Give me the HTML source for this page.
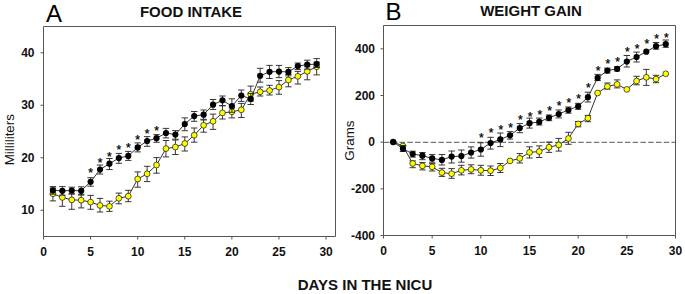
<!DOCTYPE html>
<html><head><meta charset="utf-8"><style>
html,body{margin:0;padding:0;background:#fff;}
body{width:685px;height:294px;overflow:hidden;}
svg{display:block;font-family:"Liberation Sans",sans-serif;}
.tl{font-size:12px;font-weight:bold;fill:#111;}
.tt{font-size:15px;font-weight:bold;fill:#111;}
.pl{font-size:24px;fill:#000;}
.al{font-size:13.4px;fill:#111;}
.st{font-size:12px;fill:#000;stroke:#000;stroke-width:0.25;text-anchor:middle;}
</style></head><body>
<svg width="685" height="294" viewBox="0 0 685 294">
<path d="M43.5 26.5H335.5V236.5H43.5Z" fill="none" stroke="#555" stroke-width="1"/>
<path d="M383.5 25.5H675.5V235.5H383.5Z" fill="none" stroke="#555" stroke-width="1"/>
<line x1="384" y1="142.3" x2="675" y2="142.3" stroke="#777" stroke-width="1.2" stroke-dasharray="5.5 2.27"/>
<path d="M40.5 210.25H43.5M40.5 157.75H43.5M40.5 105.25H43.5M40.5 52.75H43.5M43.5 236.5V239.5M90.6 236.5V239.5M137.69 236.5V239.5M184.79 236.5V239.5M231.89 236.5V239.5M278.98 236.5V239.5M326.08 236.5V239.5M380.5 235.5H383.5M380.5 188.83H383.5M380.5 142.17H383.5M380.5 95.5H383.5M380.5 48.83H383.5M383.5 235.5V238.5M432.17 235.5V238.5M480.83 235.5V238.5M529.5 235.5V238.5M578.17 235.5V238.5M626.83 235.5V238.5M675.5 235.5V238.5" stroke="#555" stroke-width="1" fill="none"/>
<text x="34.5" y="214.25" class="tl" text-anchor="end">10</text>
<text x="34.5" y="161.75" class="tl" text-anchor="end">20</text>
<text x="34.5" y="109.25" class="tl" text-anchor="end">30</text>
<text x="34.5" y="56.75" class="tl" text-anchor="end">40</text>
<text x="43.5" y="255.5" class="tl" text-anchor="middle">0</text>
<text x="90.6" y="255.5" class="tl" text-anchor="middle">5</text>
<text x="137.69" y="255.5" class="tl" text-anchor="middle">10</text>
<text x="184.79" y="255.5" class="tl" text-anchor="middle">15</text>
<text x="231.89" y="255.5" class="tl" text-anchor="middle">20</text>
<text x="278.98" y="255.5" class="tl" text-anchor="middle">25</text>
<text x="326.08" y="255.5" class="tl" text-anchor="middle">30</text>
<text x="375" y="239.5" class="tl" text-anchor="end">-400</text>
<text x="375" y="192.83" class="tl" text-anchor="end">-200</text>
<text x="375" y="146.17" class="tl" text-anchor="end">0</text>
<text x="375" y="99.5" class="tl" text-anchor="end">200</text>
<text x="375" y="52.83" class="tl" text-anchor="end">400</text>
<text x="383.5" y="254.8" class="tl" text-anchor="middle">0</text>
<text x="432.17" y="254.8" class="tl" text-anchor="middle">5</text>
<text x="480.83" y="254.8" class="tl" text-anchor="middle">10</text>
<text x="529.5" y="254.8" class="tl" text-anchor="middle">15</text>
<text x="578.17" y="254.8" class="tl" text-anchor="middle">20</text>
<text x="626.83" y="254.8" class="tl" text-anchor="middle">25</text>
<text x="675.5" y="254.8" class="tl" text-anchor="middle">30</text>
<text x="46" y="21.9" class="pl">A</text>
<text x="385.5" y="19.9" class="pl">B</text>
<text x="191" y="17" class="tt" text-anchor="middle">FOOD INTAKE</text>
<text x="531" y="16.1" class="tt" text-anchor="middle">WEIGHT GAIN</text>
<text x="365" y="290.3" class="tt" text-anchor="middle">DAYS IN THE NICU</text>
<text transform="translate(13.8 139.7) rotate(-90)" class="al" text-anchor="middle">Milliliters</text>
<text transform="translate(354.1 140.6) rotate(-90)" class="al" text-anchor="middle">Grams</text>
<polyline points="52.92,193.8 62.34,197.4 71.76,199.9 81.18,200.2 90.6,202.1 100.02,205.4 109.44,206.3 118.85,198.3 128.27,196.2 137.69,179 147.11,173.8 156.53,165 165.95,148.6 175.37,147.1 184.79,143.5 194.21,135.2 203.63,125.3 213.05,121.3 222.47,112.9 231.89,111.8 241.31,109.8 250.73,94.2 260.15,91.8 269.56,90.5 278.98,87.1 288.4,80 297.82,76.3 307.24,71.4 316.66,66.8" fill="none" stroke="#000" stroke-width="0.8"/>
<path d="M52.92 188V200.9M49.72 188H56.12M49.72 200.9H56.12M62.34 191V206.3M59.14 191H65.54M59.14 206.3H65.54M71.76 194V209.3M68.56 194H74.96M68.56 209.3H74.96M81.18 194.3V207.9M77.98 194.3H84.38M77.98 207.9H84.38M90.6 195.4V209.3M87.4 195.4H93.8M87.4 209.3H93.8M100.02 198.4V212M96.82 198.4H103.22M96.82 212H103.22M109.44 201.2V211.4M106.24 201.2H112.64M106.24 211.4H112.64M118.85 193.1V203.8M115.65 193.1H122.05M115.65 203.8H122.05M128.27 190.3V201.7M125.07 190.3H131.47M125.07 201.7H131.47M137.69 171.9V187.2M134.49 171.9H140.89M134.49 187.2H140.89M147.11 166.3V181.6M143.91 166.3H150.31M143.91 181.6H150.31M156.53 157.6V173.2M153.33 157.6H159.73M153.33 173.2H159.73M165.95 140.5V156.9M162.75 140.5H169.15M162.75 156.9H169.15M175.37 140V154.5M172.17 140H178.57M172.17 154.5H178.57M184.79 136.9V151M181.59 136.9H187.99M181.59 151H187.99M194.21 128V142.2M191.01 128H197.41M191.01 142.2H197.41M203.63 120V132.2M200.43 120H206.83M200.43 132.2H206.83M213.05 114.1V129.4M209.85 114.1H216.25M209.85 129.4H216.25M222.47 105.7V119M219.27 105.7H225.67M219.27 119H225.67M231.89 108V117.9M228.69 108H235.09M228.69 117.9H235.09M241.31 103.4V117.5M238.11 103.4H244.51M238.11 117.5H244.51M250.73 86.1V101M247.53 86.1H253.93M247.53 101H253.93M260.15 87V96M256.95 87H263.35M256.95 96H263.35M269.56 85.3V95M266.36 85.3H272.76M266.36 95H272.76M278.98 80.6V94.2M275.78 80.6H282.18M275.78 94.2H282.18M288.4 74.5V86.8M285.2 74.5H291.6M285.2 86.8H291.6M297.82 71.4V84M294.62 71.4H301.02M294.62 84H301.02M307.24 66.8V79.8M304.04 66.8H310.44M304.04 79.8H310.44M316.66 62V74.9M313.46 62H319.86M313.46 74.9H319.86" fill="none" stroke="#222" stroke-width="0.9"/>
<circle cx="52.92" cy="193.8" r="2.9" fill="#ffff00" stroke="#111" stroke-width="0.7"/>
<circle cx="62.34" cy="197.4" r="2.9" fill="#ffff00" stroke="#111" stroke-width="0.7"/>
<circle cx="71.76" cy="199.9" r="2.9" fill="#ffff00" stroke="#111" stroke-width="0.7"/>
<circle cx="81.18" cy="200.2" r="2.9" fill="#ffff00" stroke="#111" stroke-width="0.7"/>
<circle cx="90.6" cy="202.1" r="2.9" fill="#ffff00" stroke="#111" stroke-width="0.7"/>
<circle cx="100.02" cy="205.4" r="2.9" fill="#ffff00" stroke="#111" stroke-width="0.7"/>
<circle cx="109.44" cy="206.3" r="2.9" fill="#ffff00" stroke="#111" stroke-width="0.7"/>
<circle cx="118.85" cy="198.3" r="2.9" fill="#ffff00" stroke="#111" stroke-width="0.7"/>
<circle cx="128.27" cy="196.2" r="2.9" fill="#ffff00" stroke="#111" stroke-width="0.7"/>
<circle cx="137.69" cy="179" r="2.9" fill="#ffff00" stroke="#111" stroke-width="0.7"/>
<circle cx="147.11" cy="173.8" r="2.9" fill="#ffff00" stroke="#111" stroke-width="0.7"/>
<circle cx="156.53" cy="165" r="2.9" fill="#ffff00" stroke="#111" stroke-width="0.7"/>
<circle cx="165.95" cy="148.6" r="2.9" fill="#ffff00" stroke="#111" stroke-width="0.7"/>
<circle cx="175.37" cy="147.1" r="2.9" fill="#ffff00" stroke="#111" stroke-width="0.7"/>
<circle cx="184.79" cy="143.5" r="2.9" fill="#ffff00" stroke="#111" stroke-width="0.7"/>
<circle cx="194.21" cy="135.2" r="2.9" fill="#ffff00" stroke="#111" stroke-width="0.7"/>
<circle cx="203.63" cy="125.3" r="2.9" fill="#ffff00" stroke="#111" stroke-width="0.7"/>
<circle cx="213.05" cy="121.3" r="2.9" fill="#ffff00" stroke="#111" stroke-width="0.7"/>
<circle cx="222.47" cy="112.9" r="2.9" fill="#ffff00" stroke="#111" stroke-width="0.7"/>
<circle cx="231.89" cy="111.8" r="2.9" fill="#ffff00" stroke="#111" stroke-width="0.7"/>
<circle cx="241.31" cy="109.8" r="2.9" fill="#ffff00" stroke="#111" stroke-width="0.7"/>
<circle cx="250.73" cy="94.2" r="2.9" fill="#ffff00" stroke="#111" stroke-width="0.7"/>
<circle cx="260.15" cy="91.8" r="2.9" fill="#ffff00" stroke="#111" stroke-width="0.7"/>
<circle cx="269.56" cy="90.5" r="2.9" fill="#ffff00" stroke="#111" stroke-width="0.7"/>
<circle cx="278.98" cy="87.1" r="2.9" fill="#ffff00" stroke="#111" stroke-width="0.7"/>
<circle cx="288.4" cy="80" r="2.9" fill="#ffff00" stroke="#111" stroke-width="0.7"/>
<circle cx="297.82" cy="76.3" r="2.9" fill="#ffff00" stroke="#111" stroke-width="0.7"/>
<circle cx="307.24" cy="71.4" r="2.9" fill="#ffff00" stroke="#111" stroke-width="0.7"/>
<circle cx="316.66" cy="66.8" r="2.9" fill="#ffff00" stroke="#111" stroke-width="0.7"/>
<polyline points="52.92,190.4 62.34,190.8 71.76,190.5 81.18,190.8 90.6,181.8 100.02,169.6 109.44,163.7 118.85,158.1 128.27,155.9 137.69,147.4 147.11,141 156.53,138.2 165.95,133 175.37,134.6 184.79,124 194.21,116.1 203.63,114.7 213.05,104.7 222.47,100.3 231.89,106.1 241.31,95.5 250.73,98.9 260.15,75.8 269.56,71.8 278.98,71.6 288.4,71.9 297.82,66.1 307.24,64.6 316.66,64.1" fill="none" stroke="#000" stroke-width="0.8"/>
<path d="M52.92 186.6V194.2M49.72 186.6H56.12M49.72 194.2H56.12M62.34 186.6V195.1M59.14 186.6H65.54M59.14 195.1H65.54M71.76 187.2V193.8M68.56 187.2H74.96M68.56 193.8H74.96M81.18 186.8V195.1M77.98 186.8H84.38M77.98 195.1H84.38M90.6 177.7V186.2M87.4 177.7H93.8M87.4 186.2H93.8M100.02 165V174M96.82 165H103.22M96.82 174H103.22M109.44 158.5V169.6M106.24 158.5H112.64M106.24 169.6H112.64M118.85 153.4V163.3M115.65 153.4H122.05M115.65 163.3H122.05M128.27 151.4V160.4M125.07 151.4H131.47M125.07 160.4H131.47M137.69 142.9V151.9M134.49 142.9H140.89M134.49 151.9H140.89M147.11 136.6V146.3M143.91 136.6H150.31M143.91 146.3H150.31M156.53 134.6V142.3M153.33 134.6H159.73M153.33 142.3H159.73M165.95 128.4V137.9M162.75 128.4H169.15M162.75 137.9H169.15M175.37 130.6V139.2M172.17 130.6H178.57M172.17 139.2H178.57M184.79 117.9V130.7M181.59 117.9H187.99M181.59 130.7H187.99M194.21 111.5V121.3M191.01 111.5H197.41M191.01 121.3H197.41M203.63 110V119.3M200.43 110H206.83M200.43 119.3H206.83M213.05 99.5V109.5M209.85 99.5H216.25M209.85 109.5H216.25M222.47 96V105.7M219.27 96H225.67M219.27 105.7H225.67M231.89 98.8V112.3M228.69 98.8H235.09M228.69 112.3H235.09M241.31 90V101.4M238.11 90H244.51M238.11 101.4H244.51M250.73 93.5V104.5M247.53 93.5H253.93M247.53 104.5H253.93M260.15 68.3V82.2M256.95 68.3H263.35M256.95 82.2H263.35M269.56 65.4V78.5M266.36 65.4H272.76M266.36 78.5H272.76M278.98 65.4V77.6M275.78 65.4H282.18M275.78 77.6H282.18M288.4 67.6V75.9M285.2 67.6H291.6M285.2 75.9H291.6M297.82 63V69.6M294.62 63H301.02M294.62 69.6H301.02M307.24 60.2V69.1M304.04 60.2H310.44M304.04 69.1H310.44M316.66 58.6V67.5M313.46 58.6H319.86M313.46 67.5H319.86" fill="none" stroke="#222" stroke-width="0.9"/>
<circle cx="52.92" cy="190.4" r="3.1" fill="#000"/>
<circle cx="62.34" cy="190.8" r="3.1" fill="#000"/>
<circle cx="71.76" cy="190.5" r="3.1" fill="#000"/>
<circle cx="81.18" cy="190.8" r="3.1" fill="#000"/>
<circle cx="90.6" cy="181.8" r="3.1" fill="#000"/>
<circle cx="100.02" cy="169.6" r="3.1" fill="#000"/>
<circle cx="109.44" cy="163.7" r="3.1" fill="#000"/>
<circle cx="118.85" cy="158.1" r="3.1" fill="#000"/>
<circle cx="128.27" cy="155.9" r="3.1" fill="#000"/>
<circle cx="137.69" cy="147.4" r="3.1" fill="#000"/>
<circle cx="147.11" cy="141" r="3.1" fill="#000"/>
<circle cx="156.53" cy="138.2" r="3.1" fill="#000"/>
<circle cx="165.95" cy="133" r="3.1" fill="#000"/>
<circle cx="175.37" cy="134.6" r="3.1" fill="#000"/>
<circle cx="184.79" cy="124" r="3.1" fill="#000"/>
<circle cx="194.21" cy="116.1" r="3.1" fill="#000"/>
<circle cx="203.63" cy="114.7" r="3.1" fill="#000"/>
<circle cx="213.05" cy="104.7" r="3.1" fill="#000"/>
<circle cx="222.47" cy="100.3" r="3.1" fill="#000"/>
<circle cx="231.89" cy="106.1" r="3.1" fill="#000"/>
<circle cx="241.31" cy="95.5" r="3.1" fill="#000"/>
<circle cx="250.73" cy="98.9" r="3.1" fill="#000"/>
<circle cx="260.15" cy="75.8" r="3.1" fill="#000"/>
<circle cx="269.56" cy="71.8" r="3.1" fill="#000"/>
<circle cx="278.98" cy="71.6" r="3.1" fill="#000"/>
<circle cx="288.4" cy="71.9" r="3.1" fill="#000"/>
<circle cx="297.82" cy="66.1" r="3.1" fill="#000"/>
<circle cx="307.24" cy="64.6" r="3.1" fill="#000"/>
<circle cx="316.66" cy="64.1" r="3.1" fill="#000"/>
<polyline points="393.23,142 402.97,146 412.7,163.5 422.43,165.9 432.17,166.8 441.9,172.6 451.63,173.7 461.37,170.3 471.1,169.4 480.83,170.3 490.57,170.7 500.3,168 510.03,160.9 519.77,158.4 529.5,152.4 539.23,151.5 548.97,147.2 558.7,144.9 568.43,138.5 578.17,123.9 587.9,118.2 597.63,93 607.37,86.4 617.1,84.4 626.83,89.4 636.57,81 646.3,77.3 656.03,79.1 665.77,73.8" fill="none" stroke="#000" stroke-width="0.8"/>
<path d="M412.7 160.9V167.7M409.5 160.9H415.9M409.5 167.7H415.9M422.43 162.6V169.9M419.23 162.6H425.63M419.23 169.9H425.63M432.17 163.6V171M428.97 163.6H435.37M428.97 171H435.37M441.9 168.3V176.4M438.7 168.3H445.1M438.7 176.4H445.1M451.63 168.6V178.3M448.43 168.6H454.83M448.43 178.3H454.83M461.37 165.3V174.9M458.17 165.3H464.57M458.17 174.9H464.57M471.1 164.8V173.7M467.9 164.8H474.3M467.9 173.7H474.3M480.83 165.3V175.2M477.63 165.3H484.03M477.63 175.2H484.03M490.57 166V175.5M487.37 166H493.77M487.37 175.5H493.77M500.3 163.5V172.5M497.1 163.5H503.5M497.1 172.5H503.5M519.77 153.6V163M516.57 153.6H522.97M516.57 163H522.97M529.5 146.8V158M526.3 146.8H532.7M526.3 158H532.7M539.23 145.9V157.5M536.03 145.9H542.43M536.03 157.5H542.43M548.97 142.1V152.4M545.77 142.1H552.17M545.77 152.4H552.17M558.7 138.4V151.1M555.5 138.4H561.9M555.5 151.1H561.9M568.43 132.3V144.3M565.23 132.3H571.63M565.23 144.3H571.63M578.17 121.5V126.8M574.97 121.5H581.37M574.97 126.8H581.37M587.9 115.4V121.7M584.7 115.4H591.1M584.7 121.7H591.1M607.37 83V89.1M604.17 83H610.57M604.17 89.1H610.57M617.1 79.9V87.9M613.9 79.9H620.3M613.9 87.9H620.3M636.57 76.3V84.8M633.37 76.3H639.77M633.37 84.8H639.77M646.3 69.4V85.4M643.1 69.4H649.5M643.1 85.4H649.5M656.03 75.3V82.7M652.83 75.3H659.23M652.83 82.7H659.23" fill="none" stroke="#222" stroke-width="0.9"/>
<circle cx="393.23" cy="142" r="2.9" fill="#ffff00" stroke="#111" stroke-width="0.7"/>
<circle cx="402.97" cy="146" r="2.9" fill="#ffff00" stroke="#111" stroke-width="0.7"/>
<circle cx="412.7" cy="163.5" r="2.9" fill="#ffff00" stroke="#111" stroke-width="0.7"/>
<circle cx="422.43" cy="165.9" r="2.9" fill="#ffff00" stroke="#111" stroke-width="0.7"/>
<circle cx="432.17" cy="166.8" r="2.9" fill="#ffff00" stroke="#111" stroke-width="0.7"/>
<circle cx="441.9" cy="172.6" r="2.9" fill="#ffff00" stroke="#111" stroke-width="0.7"/>
<circle cx="451.63" cy="173.7" r="2.9" fill="#ffff00" stroke="#111" stroke-width="0.7"/>
<circle cx="461.37" cy="170.3" r="2.9" fill="#ffff00" stroke="#111" stroke-width="0.7"/>
<circle cx="471.1" cy="169.4" r="2.9" fill="#ffff00" stroke="#111" stroke-width="0.7"/>
<circle cx="480.83" cy="170.3" r="2.9" fill="#ffff00" stroke="#111" stroke-width="0.7"/>
<circle cx="490.57" cy="170.7" r="2.9" fill="#ffff00" stroke="#111" stroke-width="0.7"/>
<circle cx="500.3" cy="168" r="2.9" fill="#ffff00" stroke="#111" stroke-width="0.7"/>
<circle cx="510.03" cy="160.9" r="2.9" fill="#ffff00" stroke="#111" stroke-width="0.7"/>
<circle cx="519.77" cy="158.4" r="2.9" fill="#ffff00" stroke="#111" stroke-width="0.7"/>
<circle cx="529.5" cy="152.4" r="2.9" fill="#ffff00" stroke="#111" stroke-width="0.7"/>
<circle cx="539.23" cy="151.5" r="2.9" fill="#ffff00" stroke="#111" stroke-width="0.7"/>
<circle cx="548.97" cy="147.2" r="2.9" fill="#ffff00" stroke="#111" stroke-width="0.7"/>
<circle cx="558.7" cy="144.9" r="2.9" fill="#ffff00" stroke="#111" stroke-width="0.7"/>
<circle cx="568.43" cy="138.5" r="2.9" fill="#ffff00" stroke="#111" stroke-width="0.7"/>
<circle cx="578.17" cy="123.9" r="2.9" fill="#ffff00" stroke="#111" stroke-width="0.7"/>
<circle cx="587.9" cy="118.2" r="2.9" fill="#ffff00" stroke="#111" stroke-width="0.7"/>
<circle cx="597.63" cy="93" r="2.9" fill="#ffff00" stroke="#111" stroke-width="0.7"/>
<circle cx="607.37" cy="86.4" r="2.9" fill="#ffff00" stroke="#111" stroke-width="0.7"/>
<circle cx="617.1" cy="84.4" r="2.9" fill="#ffff00" stroke="#111" stroke-width="0.7"/>
<circle cx="626.83" cy="89.4" r="2.9" fill="#ffff00" stroke="#111" stroke-width="0.7"/>
<circle cx="636.57" cy="81" r="2.9" fill="#ffff00" stroke="#111" stroke-width="0.7"/>
<circle cx="646.3" cy="77.3" r="2.9" fill="#ffff00" stroke="#111" stroke-width="0.7"/>
<circle cx="656.03" cy="79.1" r="2.9" fill="#ffff00" stroke="#111" stroke-width="0.7"/>
<circle cx="665.77" cy="73.8" r="2.9" fill="#ffff00" stroke="#111" stroke-width="0.7"/>
<polyline points="393.23,142 402.97,148.7 412.7,154 422.43,155.7 432.17,158.4 441.9,159.9 451.63,156.6 461.37,156.1 471.1,152.5 480.83,149.5 490.57,143 500.3,139.4 510.03,135.3 519.77,128 529.5,123.2 539.23,121.9 548.97,117.8 558.7,114 568.43,110 578.17,106.3 587.9,97.2 597.63,77.9 607.37,70.6 617.1,68.8 626.83,61.5 636.57,57 646.3,51.7 656.03,46.2 665.77,44.2" fill="none" stroke="#000" stroke-width="0.8"/>
<path d="M402.97 145.5V151.5M399.77 145.5H406.17M399.77 151.5H406.17M412.7 151.2V157.1M409.5 151.2H415.9M409.5 157.1H415.9M422.43 152.5V159.7M419.23 152.5H425.63M419.23 159.7H425.63M432.17 154.6V162.2M428.97 154.6H435.37M428.97 162.2H435.37M441.9 154.5V165M438.7 154.5H445.1M438.7 165H445.1M451.63 151V163M448.43 151H454.83M448.43 163H454.83M461.37 150V162.2M458.17 150H464.57M458.17 162.2H464.57M471.1 146.9V158.1M467.9 146.9H474.3M467.9 158.1H474.3M480.83 142.8V156.2M477.63 142.8H484.03M477.63 156.2H484.03M490.57 137.3V149.1M487.37 137.3H493.77M487.37 149.1H493.77M500.3 133V146.6M497.1 133H503.5M497.1 146.6H503.5M510.03 131.6V139.1M506.83 131.6H513.23M506.83 139.1H513.23M519.77 123.6V132.7M516.57 123.6H522.97M516.57 132.7H522.97M529.5 118.1V128.1M526.3 118.1H532.7M526.3 128.1H532.7M539.23 118.1V125M536.03 118.1H542.43M536.03 125H542.43M548.97 115V120.7M545.77 115H552.17M545.77 120.7H552.17M558.7 110V117.9M555.5 110H561.9M555.5 117.9H561.9M568.43 107V113.2M565.23 107H571.63M565.23 113.2H571.63M578.17 103.3V109.3M574.97 103.3H581.37M574.97 109.3H581.37M587.9 92.2V102M584.7 92.2H591.1M584.7 102H591.1M597.63 74.4V80.6M594.43 74.4H600.83M594.43 80.6H600.83M607.37 68.2V73M604.17 68.2H610.57M604.17 73H610.57M617.1 66.8V71M613.9 66.8H620.3M613.9 71H620.3M626.83 55.5V67M623.63 55.5H630.03M623.63 67H630.03M636.57 52.1V62M633.37 52.1H639.77M633.37 62H639.77M656.03 42.5V49.2M652.83 42.5H659.23M652.83 49.2H659.23M665.77 40V47.3M662.57 40H668.97M662.57 47.3H668.97" fill="none" stroke="#222" stroke-width="0.9"/>
<circle cx="393.23" cy="142" r="3.1" fill="#000"/>
<circle cx="402.97" cy="148.7" r="3.1" fill="#000"/>
<circle cx="412.7" cy="154" r="3.1" fill="#000"/>
<circle cx="422.43" cy="155.7" r="3.1" fill="#000"/>
<circle cx="432.17" cy="158.4" r="3.1" fill="#000"/>
<circle cx="441.9" cy="159.9" r="3.1" fill="#000"/>
<circle cx="451.63" cy="156.6" r="3.1" fill="#000"/>
<circle cx="461.37" cy="156.1" r="3.1" fill="#000"/>
<circle cx="471.1" cy="152.5" r="3.1" fill="#000"/>
<circle cx="480.83" cy="149.5" r="3.1" fill="#000"/>
<circle cx="490.57" cy="143" r="3.1" fill="#000"/>
<circle cx="500.3" cy="139.4" r="3.1" fill="#000"/>
<circle cx="510.03" cy="135.3" r="3.1" fill="#000"/>
<circle cx="519.77" cy="128" r="3.1" fill="#000"/>
<circle cx="529.5" cy="123.2" r="3.1" fill="#000"/>
<circle cx="539.23" cy="121.9" r="3.1" fill="#000"/>
<circle cx="548.97" cy="117.8" r="3.1" fill="#000"/>
<circle cx="558.7" cy="114" r="3.1" fill="#000"/>
<circle cx="568.43" cy="110" r="3.1" fill="#000"/>
<circle cx="578.17" cy="106.3" r="3.1" fill="#000"/>
<circle cx="587.9" cy="97.2" r="3.1" fill="#000"/>
<circle cx="597.63" cy="77.9" r="3.1" fill="#000"/>
<circle cx="607.37" cy="70.6" r="3.1" fill="#000"/>
<circle cx="617.1" cy="68.8" r="3.1" fill="#000"/>
<circle cx="626.83" cy="61.5" r="3.1" fill="#000"/>
<circle cx="636.57" cy="57" r="3.1" fill="#000"/>
<circle cx="646.3" cy="51.7" r="3.1" fill="#000"/>
<circle cx="656.03" cy="46.2" r="3.1" fill="#000"/>
<circle cx="665.77" cy="44.2" r="3.1" fill="#000"/>
<text x="90.6" y="177.2" class="st">*</text>
<text x="100.02" y="167" class="st">*</text>
<text x="109.44" y="160.9" class="st">*</text>
<text x="118.85" y="154.4" class="st">*</text>
<text x="128.27" y="152.4" class="st">*</text>
<text x="137.69" y="144.4" class="st">*</text>
<text x="147.11" y="137.7" class="st">*</text>
<text x="156.53" y="134.7" class="st">*</text>
<text x="481.33" y="141.5" class="st">*</text>
<text x="491.07" y="136.7" class="st">*</text>
<text x="500.8" y="133.5" class="st">*</text>
<text x="510.53" y="132.4" class="st">*</text>
<text x="520.27" y="124.3" class="st">*</text>
<text x="530" y="121.1" class="st">*</text>
<text x="539.73" y="118.9" class="st">*</text>
<text x="549.47" y="114.7" class="st">*</text>
<text x="559.2" y="109.7" class="st">*</text>
<text x="568.93" y="106.5" class="st">*</text>
<text x="578.67" y="102.9" class="st">*</text>
<text x="588.4" y="92.2" class="st">*</text>
<text x="598.13" y="75.1" class="st">*</text>
<text x="607.87" y="68.4" class="st">*</text>
<text x="617.6" y="66.1" class="st">*</text>
<text x="627.33" y="55.6" class="st">*</text>
<text x="637.07" y="53.2" class="st">*</text>
<text x="646.8" y="47.8" class="st">*</text>
<text x="656.53" y="43.1" class="st">*</text>
<text x="666.27" y="41.9" class="st">*</text>
</svg>
</body></html>
